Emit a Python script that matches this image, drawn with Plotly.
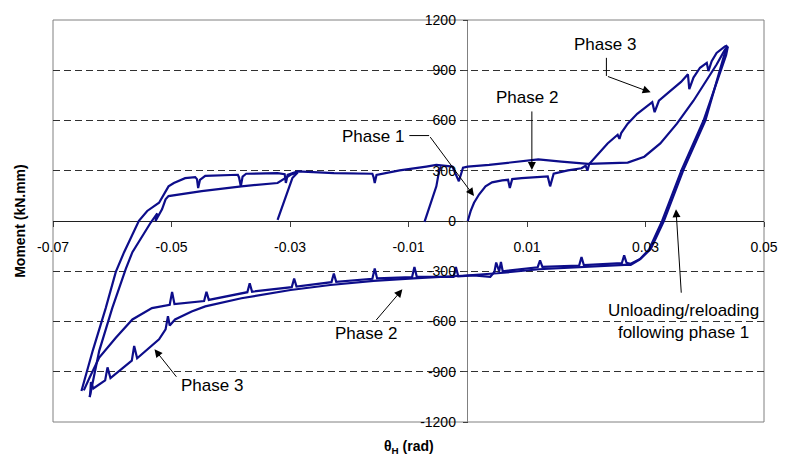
import plotly.graph_objects as go

# ---------------- data (theta_H in rad, Moment in kN.mm) ----------------
# Phase 1 loading from origin, then phase 3 upper branch (with notches) to peak
phase1_x = [0.0, 0.0005, 0.00106, 0.0019, 0.003, 0.0041, 0.0058, 0.0068, 0.0071, 0.0075, 0.0091,
            0.0135, 0.0139, 0.0145, 0.0169, 0.0192, 0.0199, 0.0202, 0.0205, 0.0214, 0.0236,
            0.0253, 0.0256, 0.0259, 0.027, 0.0286, 0.03114, 0.03154, 0.03226, 0.0342, 0.036,
            0.03716, 0.03739, 0.0381, 0.0392, 0.04034, 0.04062, 0.04117, 0.042, 0.0434, 0.0438]
phase1_y = [0, 60, 109, 158, 207, 231, 243, 246, 197, 250, 256,
            266, 207, 282, 302, 315, 330, 300, 340, 374, 463,
            515, 490, 525, 581, 640, 709, 650, 718, 777, 830,
            876, 787, 856, 915, 944, 895, 954, 1003, 1042, 1047]

# First unloading + negative plateau (with spikes) + upper negative branch
unload1_x = [0.0438, 0.0432, 0.0401, 0.0364, 0.0331, 0.032, 0.0309, 0.0292, 0.0275,
             0.0268, 0.0264, 0.026, 0.023, 0.0196, 0.0192, 0.0188, 0.0126, 0.0122, 0.0118,
             0.0059, 0.0056, 0.0053, 0.0048, 0.0045, 0.0038, 0.001, -0.0016, -0.002, -0.0024,
             -0.0086, -0.009, -0.0094, -0.0153, -0.0157, -0.0161, -0.0222, -0.0226, -0.023,
             -0.0289, -0.0293, -0.0297, -0.0364, -0.0368, -0.0372, -0.0437, -0.0441, -0.0445,
             -0.0495, -0.0499, -0.0503, -0.0533, -0.0566, -0.0594, -0.0622, -0.0638, -0.0648]
unload1_y = [1047, 980, 600, 305, 0, -87, -166, -225, -255,
             -250, -205, -252, -258, -264, -215, -266, -274, -235, -276,
             -300, -245, -300, -248, -304, -333, -325, -330, -274, -333,
             -333, -274, -335, -343, -284, -345, -363, -313, -365,
             -392, -343, -395, -422, -372, -425, -471, -422, -478,
             -496, -423, -500, -520, -588, -697, -815, -933, -1011]

# Reloading (outer steep line) + upper-left branch + upper positive plateau + lower phase 3 branch
reload1_x = [-0.0652, -0.0633, -0.0611, -0.0594, -0.058, -0.0572, -0.0555, -0.0541, -0.0521,
             -0.0505, -0.0496, -0.0477, -0.046, -0.0457, -0.0455, -0.0452, -0.0443, -0.0388,
             -0.0386, -0.0383, -0.038, -0.0374, -0.0321, -0.0309, -0.0307, -0.0304, -0.0287,
             -0.0226, -0.0161, -0.0159, -0.0157, -0.0154, -0.0115, -0.007, -0.0053, -0.0026,
             -0.0015, -0.0008, 0.0, 0.0036, 0.0091, 0.0119, 0.0158, 0.0203, 0.027, 0.0298,
             0.0325, 0.0353, 0.0381, 0.0403, 0.042, 0.0434, 0.0439]
reload1_y = [-1015, -775, -520, -304, -186, -127, 1, 60, 109,
             207, 227, 256, 262, 250, 197, 245, 270, 276,
             260, 207, 265, 282, 286, 280, 227, 275, 296,
             286, 282, 262, 227, 275, 302, 325, 335, 325,
             237, 318, 325, 335, 355, 368, 355, 341, 349, 384,
             463, 581, 718, 836, 934, 1023, 1042]

# Second unloading + negative plateau + lower negative branch (with spikes)
unload2_x = [0.0439, 0.0436, 0.0398, 0.0361, 0.0328, 0.0317, 0.0306, 0.029, 0.0275,
             0.0265, 0.02, 0.012, 0.005, 0.0, -0.0009, -0.0092, -0.0159, -0.0232, -0.0299,
             -0.0382, -0.0443, -0.0466, -0.0494, -0.0503, -0.0506, -0.0510, -0.0521, -0.0558,
             -0.0563, -0.0567, -0.0603, -0.0608, -0.0612, -0.0632, -0.0636, -0.0637, -0.0638]
unload2_y = [1042, 990, 600, 305, 0, -90, -170, -230, -262,
             -262, -272, -288, -312, -325, -327, -343, -358, -382, -412,
             -461, -510, -540, -588, -624, -569, -647, -706, -820,
             -746, -834, -938, -874, -952, -1000, -962, -1021, -1051]

# Reloading (inner steep line) + lower-left branch
reload2_x = [-0.0638, -0.0622, -0.06, -0.0577, -0.0566, -0.0549, -0.0535, -0.0524, -0.0527,
             -0.0516, -0.051, -0.0505, -0.0449, -0.0382, -0.0321, -0.0299, -0.0287]
reload2_y = [-1051, -775, -520, -284, -186, -87, -9, 45, 0,
             70, 129, 149, 178, 207, 227, 276, 290]

# Short reloading lines starting from zero moment
short1_x = [-0.0321, -0.0296, -0.0287]
short1_y = [7, 256, 290]
short2_x = [-0.0073, -0.0053, -0.0048, -0.0045]
short2_y = [-5, 207, 305, 325]

x_ticks = [-0.07, -0.05, -0.03, -0.01, 0.01, 0.03, 0.05]
x_tick_labels = ["-0.07", "-0.05", "-0.03", "-0.01", "0.01", "0.03", "0.05"]
y_ticks = [-1200, -900, -600, -300, 0, 300, 600, 900, 1200]
y_tick_labels = ["-1200", "-900", "-600", "-300", "0", "300", "600", "900", "1200"]

# ---------------- figure ----------------
LINE = "#0d0d8a"
FONT = "Liberation Sans, Arial, sans-serif"

fig = go.Figure()
for xs, ys in [(phase1_x, phase1_y), (unload1_x, unload1_y), (reload1_x, reload1_y),
               (unload2_x, unload2_y), (reload2_x, reload2_y),
               (short1_x, short1_y), (short2_x, short2_y)]:
    fig.add_trace(go.Scatter(x=xs, y=ys, mode="lines",
                             line=dict(color=LINE, width=2.2), showlegend=False,
                             hoverinfo="skip"))

X0, X1 = -0.07, 0.05
Y0, Y1 = -1200, 1200

fig.update_layout(
    width=790, height=462,
    margin=dict(l=53, r=19, t=15, b=40),
    paper_bgcolor="white", plot_bgcolor="white",
    font=dict(family=FONT, color="black", size=14),
    xaxis=dict(range=[X0, X1], tickvals=x_ticks, ticktext=x_tick_labels,
               showgrid=False, zeroline=True, zerolinecolor="#808080", zerolinewidth=1,
               showline=False, anchor="free", position=(0 - Y0) / (Y1 - Y0),
               ticks="outside", ticklen=5, tickcolor="#404040",
               ticklabelstandoff=8, tickfont=dict(size=14)),
    yaxis=dict(range=[Y0, Y1], tickvals=y_ticks, ticktext=y_tick_labels,
               showgrid=True, gridcolor="#303030", gridwidth=1, griddash="7px,4px",
               zeroline=True, zerolinecolor="#202020", zerolinewidth=1,
               showline=False, anchor="free", position=(0 - X0) / (X1 - X0),
               ticks="outside", ticklen=5, tickcolor="#404040",
               ticklabelstandoff=4, tickfont=dict(size=14)),
    shapes=[
        dict(type="rect", xref="paper", yref="paper", x0=0, x1=1, y0=0, y1=1,
             line=dict(color="#808080", width=1), layer="below"),
        # bent leader segments
        dict(type="line", xref="x", yref="y", x0=0.0234, y0=974, x1=0.0234, y1=866,
             line=dict(color="black", width=1)),
        dict(type="line", xref="x", yref="y", x0=-0.00986, y0=510, x1=-0.00652, y1=510,
             line=dict(color="black", width=1)),
    ],
)

def label(x, y, text):
    fig.add_annotation(x=x, y=y, xref="x", yref="y", text=text, showarrow=False,
                       font=dict(family=FONT, size=17, color="black"),
                       xanchor="center", yanchor="middle", align="center")

def arrow(tx, ty, hx, hy):
    fig.add_annotation(x=hx, y=hy, ax=tx, ay=ty, xref="x", yref="y", axref="x", ayref="y",
                       text="", showarrow=True, arrowhead=2, arrowsize=1.6, arrowwidth=1,
                       arrowcolor="black", standoff=0, startstandoff=0)

label(0.0232, 1052, "Phase 3")
arrow(0.0234, 866, 0.03087, 768)
label(0.00998, 740, "Phase 2")
arrow(0.01082, 663, 0.01082, 305)
label(-0.01605, 504, "Phase 1")
arrow(-0.00652, 510, 0.00105, 149)
label(-0.01713, -670, "Phase 2")
arrow(-0.01566, -600, -0.01103, -408)
label(-0.04315, -982, "Phase 3")
arrow(-0.04897, -939, -0.05287, -765)
label(0.03638, -599, "Unloading/reloading<br>following phase 1")
arrow(0.03605, -437, 0.03515, 70)

# axis titles
fig.add_annotation(x=(19.5 - 53) / 718, y=0.5, xref="paper", yref="paper",
                   text="<b>Moment (kN.mm)</b>", textangle=-90, showarrow=False,
                   font=dict(family=FONT, size=14, color="black"),
                   xanchor="center", yanchor="middle")
fig.add_annotation(x=0.5, y=(422 - 447) / 407, xref="paper", yref="paper",
                   text="<b>θ<sub>H</sub> (rad)</b>", showarrow=False,
                   font=dict(family=FONT, size=14, color="black"),
                   xanchor="center", yanchor="middle")

fig.write_html("out.html")
